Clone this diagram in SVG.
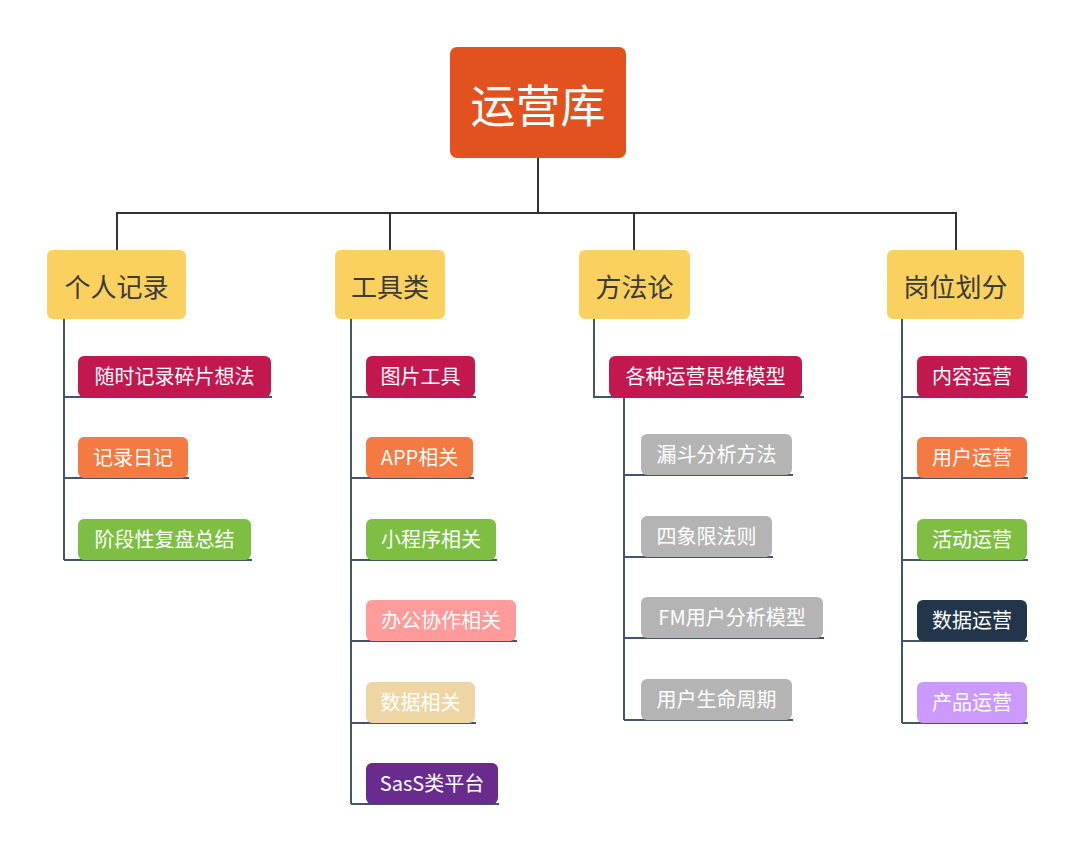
<svg xmlns="http://www.w3.org/2000/svg" width="1080" height="857" viewBox="0 0 1080 857">
<style>
.cat{fill:#FAD05E}
.ct{font-family:"Noto Sans CJK SC","Noto Sans",sans-serif;font-size:26px;fill:#3a3a3a;text-anchor:middle}
.t{font-family:"Noto Sans CJK SC","Noto Sans",sans-serif;font-size:20px;fill:#ffffff;text-anchor:middle}
.main{stroke:#333333;stroke-width:2;fill:none}
.br{stroke:#44546A;stroke-width:2;fill:none}
.c1{fill:#C2184F}.c2{fill:#F47A41}.c3{fill:#7DBE43}.c4{fill:#FF9B9B}.c5{fill:#EDD6A4}.c6{fill:#6A2B8E}.c7{fill:#B4B4B4}.c8{fill:#22354B}.c9{fill:#CC99FF}
</style>
<rect width="1080" height="857" fill="#ffffff"/>
<g id="connectors">
<path class="main" d="M538 158V213M117 213H957M117 212V250M390 212V250M634 212V250M956 212V250"/>
<path class="br" d="M64 319V560M64 397H272M64 478H189M64 560H252"/>
<path class="br" d="M351 319V804M351 397H476M351 478H474M351 560H497M351 641H517M351 723H476M351 804H499"/>
<path class="br" d="M594 319V397H804M624 397V720M624 475H793M624 557H773M624 638H824M624 720H793"/>
<path class="br" d="M902 319V723M902 397H1028M902 478H1028M902 560H1028M902 641H1028M902 723H1028"/>
</g>
<g id="root"><rect x="450" y="47" width="176" height="111" rx="7" fill="#E2521F"/><text x="538" y="123" font-family="'Noto Sans CJK SC','Noto Sans',sans-serif" font-size="45" fill="#ffffff" text-anchor="middle">运营库</text></g>
<g id="cat1"><rect class="cat" x="47" y="250" width="139" height="69" rx="6"/><text class="ct" x="116.5" y="297">个人记录</text></g>
<g id="cat2"><rect class="cat" x="335" y="250" width="110" height="69" rx="6"/><text class="ct" x="390" y="297">工具类</text></g>
<g id="cat3"><rect class="cat" x="579" y="250" width="111" height="69" rx="6"/><text class="ct" x="634.5" y="297">方法论</text></g>
<g id="cat4"><rect class="cat" x="887" y="250" width="137" height="69" rx="6"/><text class="ct" x="955.5" y="297">岗位划分</text></g>

<g id="n1a"><rect class="c1" x="78" y="356" width="193" height="41" rx="6"/><text class="t" x="174.5" y="383.5">随时记录碎片想法</text></g>
<g id="n1b"><rect class="c2" x="78" y="437" width="110" height="41" rx="6"/><text class="t" x="133" y="464.5">记录日记</text></g>
<g id="n1c"><rect class="c3" x="78" y="519" width="173" height="41" rx="6"/><text class="t" x="164.5" y="546.5">阶段性复盘总结</text></g>

<g id="n2a"><rect class="c1" x="366" y="356" width="109" height="41" rx="6"/><text class="t" x="420.5" y="383.5">图片工具</text></g>
<g id="n2b"><rect class="c2" x="366" y="437" width="107" height="41" rx="6"/><text class="t" x="419.5" y="464.5">APP相关</text></g>
<g id="n2c"><rect class="c3" x="366" y="519" width="130" height="41" rx="6"/><text class="t" x="431" y="546.5">小程序相关</text></g>
<g id="n2d"><rect class="c4" x="366" y="600" width="150" height="41" rx="6"/><text class="t" x="441" y="627.5">办公协作相关</text></g>
<g id="n2e"><rect class="c5" x="366" y="682" width="109" height="41" rx="6"/><text class="t" x="420.5" y="709.5">数据相关</text></g>
<g id="n2f"><rect class="c6" x="366" y="763" width="132" height="41" rx="6"/><text class="t" x="432" y="790.5">SasS类平台</text></g>

<g id="n3"><rect class="c1" x="609" y="356" width="193" height="41" rx="6"/><text class="t" x="705.5" y="383.5">各种运营思维模型</text></g>
<g id="n3a"><rect class="c7" x="641" y="434" width="151" height="41" rx="6"/><text class="t" x="716.5" y="461.5">漏斗分析方法</text></g>
<g id="n3b"><rect class="c7" x="641" y="516" width="131" height="41" rx="6"/><text class="t" x="706.5" y="543.5">四象限法则</text></g>
<g id="n3c"><rect class="c7" x="641" y="597" width="182" height="41" rx="6"/><text class="t" x="732" y="624.5">FM用户分析模型</text></g>
<g id="n3d"><rect class="c7" x="641" y="679" width="151" height="41" rx="6"/><text class="t" x="716.5" y="706.5">用户生命周期</text></g>

<g id="n4a"><rect class="c1" x="917" y="356" width="110" height="41" rx="6"/><text class="t" x="972" y="383.5">内容运营</text></g>
<g id="n4b"><rect class="c2" x="917" y="437" width="110" height="41" rx="6"/><text class="t" x="972" y="464.5">用户运营</text></g>
<g id="n4c"><rect class="c3" x="917" y="519" width="110" height="41" rx="6"/><text class="t" x="972" y="546.5">活动运营</text></g>
<g id="n4d"><rect class="c8" x="917" y="600" width="110" height="41" rx="6"/><text class="t" x="972" y="627.5">数据运营</text></g>
<g id="n4e"><rect class="c9" x="917" y="682" width="110" height="41" rx="6"/><text class="t" x="972" y="709.5">产品运营</text></g>
</svg>
